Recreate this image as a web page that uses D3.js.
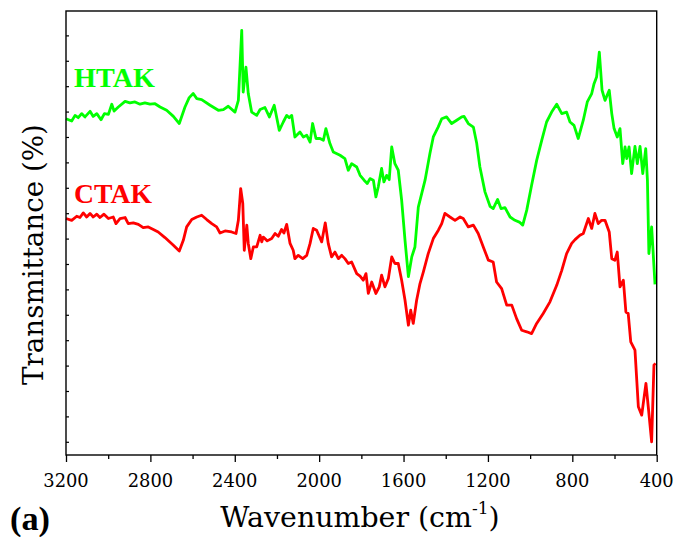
<!DOCTYPE html>
<html>
<head>
<meta charset="utf-8">
<script src="https://cdn.jsdelivr.net/npm/d3@7"></script>
<style>
  html, body { margin: 0; padding: 0; background: #fff; }
  svg { display: block; }
</style>
</head>
<body>
<svg id="chart" width="675" height="537"></svg>
<script>
// ---------- data ----------
const xTickValues = [3200, 2800, 2400, 2000, 1600, 1200, 800, 400];
const xTickLabels = ["3200", "2800", "2400", "2000", "1600", "1200", "800", "400"];
const xMinorTicks = [3000, 2600, 2200, 1800, 1400, 1000, 600];
const yTickValues = [0,10,20,30,40,50,60,70,80,90,100,110,120,130,140,150,160];
const seriesNames = ["HTAK", "CTAK"];
const seriesColors = ["#00ff00", "#ff0000"];

const htakWn = [3200,3173,3157,3142,3126,3110,3086,3071,3054,3034,3018,2999,2983,2972,2952,2920,2897,2873,2849,2826,2802,2778,2754,2723,2691,2663,2636,2616,2597,2580,2557,2517,2478,2454,2431,2399,2383,2367,2360,2347,2336,2320,2296,2280,2257,2236,2213,2189,2170,2154,2142,2130,2115,2091,2075,2059,2043,2031,2015,1996,1980,1968,1949,1933,1901,1878,1862,1846,1822,1806,1787,1772,1759,1743,1731,1720,1704,1693,1680,1668,1656,1641,1625,1609,1593,1577,1561,1546,1530,1514,1498,1475,1459,1436,1419,1396,1372,1348,1324,1313,1293,1269,1253,1238,1214,1190,1175,1154,1138,1119,1095,1072,1051,1035,1016,993,969,945,922,898,874,850,827,811,792,772,748,729,708,697,685,672,659,645,625,613,602,587,574,561,550,542,531,519,503,492,479,466,452,444,437,424,408];
const htakT = [127.2,126.3,128.5,127.6,129.2,127.9,130.1,128.1,129.2,126.8,129.2,128.9,132.9,130.2,131.8,134.0,133.4,133.8,132.9,133.4,132.9,133.1,131.8,130.5,128.1,125.3,131.8,135.5,137.1,135.1,134.7,132.5,130.5,130.8,132.1,129.8,134.4,162.0,137.7,147.5,137.1,129.8,128.5,130.8,131.6,127.9,132.5,122.6,125.9,128.5,127.6,128.5,120.0,122.0,120.0,120.7,118.0,125.3,119.4,119.4,118.7,123.3,117.4,114.1,112.8,111.5,106.9,109.5,108.2,104.9,103.0,101.7,103.6,103.0,96.4,100.3,107.6,102.3,104.9,103.2,116.1,109.5,106.9,95.1,79.3,65.0,72.8,76.7,92.4,97.7,103.0,113.5,120.0,123.9,127.2,127.9,125.3,126.6,127.9,128.1,125.3,123.9,117.4,108.2,98.4,92.7,91.8,95.4,91.8,92.2,88.5,87.2,86.5,85.3,91.2,101.0,110.8,118.7,125.9,129.8,132.9,129.2,129.8,125.9,124.6,119.4,126.6,133.8,137.1,141.0,143.6,153.4,138.4,134.4,138.4,129.2,123.3,120.0,123.3,109.5,116.1,111.5,116.1,105.6,116.3,109.5,116.3,105.6,115.4,103.0,74.1,84.6,62.0];

const ctakWn = [3200,3173,3149,3134,3118,3102,3086,3071,3054,3039,3020,2999,2976,2963,2944,2920,2905,2881,2857,2834,2810,2786,2763,2731,2691,2663,2644,2628,2604,2580,2557,2533,2509,2486,2470,2446,2415,2394,2383,2372,2362,2355,2343,2336,2324,2312,2296,2280,2272,2265,2246,2225,2209,2194,2178,2167,2154,2138,2123,2115,2099,2078,2059,2043,2028,2012,1988,1971,1957,1941,1925,1909,1893,1878,1862,1846,1822,1806,1791,1778,1767,1751,1731,1715,1704,1688,1672,1656,1641,1625,1609,1593,1577,1566,1554,1538,1522,1506,1483,1459,1435,1419,1404,1380,1356,1332,1317,1293,1269,1246,1222,1198,1175,1159,1135,1111,1087,1064,1040,1016,993,969,938,906,874,850,827,803,787,764,748,724,708,693,677,661,645,625,613,598,587,574,558,546,535,523,503,487,471,451,440,424,413,405];
const ctakT = [87.9,87.2,88.8,88.3,90.1,88.5,89.9,88.5,89.6,88.3,89.6,87.9,88.5,85.9,87.9,88.3,85.9,86.2,85.6,84.3,84.6,83.6,82.6,80.4,77.4,75.1,79.3,84.6,87.5,88.5,89.2,87.5,85.9,84.6,82.2,83.0,82.6,82.0,87.2,99.7,93.8,75.4,85.3,78.1,72.1,76.7,76.7,81.3,78.7,80.6,79.1,80.0,82.0,80.9,83.6,82.2,85.6,78.1,75.4,72.1,73.4,72.1,73.4,78.1,84.0,83.3,78.7,86.2,78.1,72.8,74.7,72.1,73.4,72.1,70.2,70.8,66.2,65.2,63.6,66.2,58.4,62.9,58.4,61.0,65.6,61.0,64.3,72.8,70.2,70.2,63.6,55.7,45.9,51.8,46.6,55.7,62.3,66.9,74.1,80.0,83.3,85.9,89.9,88.5,87.2,88.5,87.9,84.6,85.3,82.0,76.7,71.5,70.8,62.9,60.3,53.8,53.8,48.5,43.9,43.3,42.6,46.6,50.5,55.1,61.6,67.5,74.1,78.1,79.6,81.3,82.0,87.9,84.0,89.9,85.9,87.2,87.2,82.6,72.1,71.5,74.7,61.0,63.6,51.1,50.5,39.3,36.1,13.8,10.5,23.0,13.8,0.0,30.2,30.8];

// ---------- fonts ----------
const FONT_REG = "DejaVu Serif";
const FONT_BOLD = "Liberation Serif";
const svg = d3.select("#chart");

function fit(sel, baseSize, target) {
  sel.attr("font-size", baseSize);
  const w = sel.node().getComputedTextLength();
  if (w > 0) {
    const k = Math.max(0.7, Math.min(1.3, target / w));
    sel.attr("font-size", baseSize * k);
    return baseSize * k;
  }
  return baseSize;
}

// ---------- layout ----------
const margin = { left: 66, top: 11, right: 675 - 656.7, bottom: 537 - 455 };
const W = 675 - margin.left - margin.right;
const H = 537 - margin.top - margin.bottom;

const x = d3.scaleLinear().domain([3200, 400]).range([0, W]);
const y = d3.scaleLinear().domain([-5.2, 169.6]).range([H, 0]);

const g = svg.append("g").attr("transform", `translate(${margin.left},${margin.top})`);

// curves
const line = d3.line().x(d => x(d[0])).y(d => y(d[1]));
const series = [d3.zip(htakWn, htakT), d3.zip(ctakWn, ctakT)];
series.forEach((s, i) => {
  g.append("path").datum(s)
    .attr("fill", "none")
    .attr("stroke", seriesColors[i])
    .attr("stroke-width", 2.8)
    .attr("stroke-linejoin", "round")
    .attr("d", line);
});

// frame
g.append("rect").attr("x", 0).attr("y", 0).attr("width", W).attr("height", H)
  .attr("fill", "none").attr("stroke", "#000").attr("stroke-width", 1.4);

// x axis major ticks
const xAxis = g.append("g").attr("transform", `translate(0,${H})`)
  .call(d3.axisBottom(x).tickValues(xTickValues).tickFormat("").tickSizeInner(7).tickSizeOuter(0));
xAxis.attr("font-family", FONT_REG);
xAxis.select(".domain").remove();
xAxis.selectAll("text").remove();
xAxis.selectAll("line").attr("stroke", "#000").attr("stroke-width", 1.3);

// x axis minor ticks
const xMinor = g.append("g").attr("transform", `translate(0,${H})`)
  .call(d3.axisBottom(x).tickValues(xMinorTicks).tickFormat("").tickSizeInner(4).tickSizeOuter(0));
xMinor.attr("font-family", FONT_REG);
xMinor.select(".domain").remove();
xMinor.selectAll("text").remove();
xMinor.selectAll("line").attr("stroke", "#000").attr("stroke-width", 1.3);

// y axis ticks (inward, unlabeled)
const yAxis = g.append("g")
  .call(d3.axisLeft(y).tickValues(yTickValues).tickFormat("").tickSizeInner(-3).tickSizeOuter(0));
yAxis.attr("font-family", FONT_REG);
yAxis.select(".domain").remove();
yAxis.selectAll("text").remove();
yAxis.selectAll("line").attr("stroke", "#000").attr("stroke-width", 1.2);

// tick labels
const tickTexts = xTickLabels.map((lab, i) =>
  svg.append("text")
    .attr("x", margin.left + x(xTickValues[i])).attr("y", margin.top + H + 31.5)
    .attr("font-family", FONT_REG).attr("font-size", 20)
    .attr("text-anchor", "middle").attr("fill", "#000")
    .text(lab));
const tickSize = fit(tickTexts[0], 20, 45.5);
tickTexts.forEach(t => t.attr("font-size", tickSize));

// series labels (bold)
const lab1 = svg.append("text").attr("x", 74).attr("y", 87.3)
  .attr("font-family", FONT_BOLD).attr("font-weight", "bold")
  .attr("fill", seriesColors[0]).text(seriesNames[0]);
fit(lab1, 27.5, 81);
const lab2 = svg.append("text").attr("x", 74).attr("y", 202.7)
  .attr("font-family", FONT_BOLD).attr("font-weight", "bold")
  .attr("fill", seriesColors[1]).text(seriesNames[1]);
fit(lab2, 27.5, 78);

// axis titles
const yt = svg.append("text")
  .attr("transform", "translate(43,254.5) rotate(-90)")
  .attr("font-family", FONT_REG)
  .attr("text-anchor", "middle").attr("fill", "#000")
  .text("Transmittance (%)");
fit(yt, 30, 261);

const xt = svg.append("text").attr("x", 360).attr("y", 527)
  .attr("font-family", FONT_REG)
  .attr("text-anchor", "middle").attr("fill", "#000");
xt.append("tspan").text("Wavenumber (cm");
const sup = xt.append("tspan").attr("dy", -13).attr("font-size", 18).text("-1");
xt.append("tspan").attr("dy", 13).text(")");
const xs = fit(xt, 29, 280);
sup.attr("font-size", xs * 0.6);

const pa = svg.append("text").attr("x", 10).attr("y", 530)
  .attr("font-family", FONT_BOLD).attr("font-weight", "bold")
  .attr("fill", "#000").text("(a)");
fit(pa, 32, 40);
</script>
</body>
</html>
